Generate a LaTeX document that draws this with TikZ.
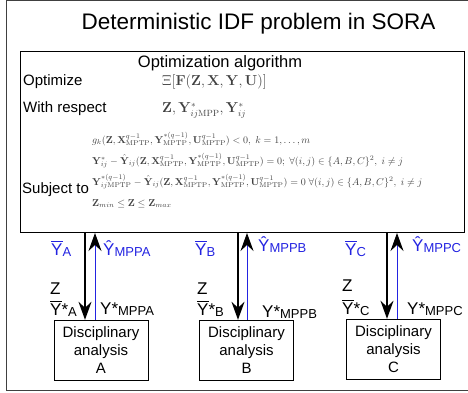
\documentclass[tikz,border=0pt]{standalone}
\usepackage[no-math]{fontspec}
\setmainfont{Liberation Sans}
\usepackage{amsmath,amssymb}
\usetikzlibrary{arrows.meta}
\definecolor{varblue}{RGB}{35,35,225}
\tikzset{
  lbl/.style={anchor=base west, inner sep=0pt, font=\fontsize{17}{17}\selectfont},
  bluelbl/.style={lbl, text=varblue},
  txt/.style={anchor=base west, inner sep=0pt, font=\fontsize{15}{15}\selectfont},
  mth/.style={anchor=base west, inner sep=0pt, text=black!75, font=\fontsize{13.5}{15}\selectfont},
  cst/.style={mth, font=\fontsize{10}{12}\selectfont},
  dabox/.style={draw, minimum width=94pt, minimum height=60pt, align=center, inner sep=0pt, font=\fontsize{15}{18}\selectfont},
  dn/.style={-{Stealth[length=18pt,width=13pt,inset=6pt]}, line width=1.2pt},
  upv/.style={-{Stealth[length=18pt,width=13pt,inset=6pt,color=black]}, varblue, line width=0.9pt},
}
\newcommand{\sbs}[1]{\raisebox{-1.5pt}{\fontsize{13}{13}\selectfont #1}}
\newcommand{\ybar}{$\overline{\mbox{Y}}$}
\begin{document}
\begin{tikzpicture}[x=1pt, y=-1pt]
\useasboundingbox (0,0) rectangle (468,393);
% frame and title
\draw[black!75, line width=1pt] (475,0.5) -- (6,0.5) -- (6,390) -- (475,390);
\node[anchor=base, inner sep=0pt, font=\fontsize{22.5}{24}\selectfont] (title) at (258.5,30) {Deterministic IDF problem in SORA};
% optimization block
\node[draw, line width=1pt, minimum width=444pt, minimum height=181pt, anchor=north west, inner sep=0pt] (opt) at (20,51) {};
\node[anchor=base, inner sep=0pt, font=\fontsize{16.5}{18}\selectfont] (algo) at (220,68) {Optimization algorithm};
\node[txt] (optz) at (23,86) {Optimize};
\node[txt] (wrt) at (23,113) {With respect};
\node[txt] (subj) at (22,193) {Subject to};
\node[mth] (obj) at (162,86) {$\Xi[\mathbf{F}(\mathbf{Z},\mathbf{X},\mathbf{Y},\mathbf{U})]$};
\node[mth] (vars) at (162,113) {$\mathbf{Z},\mathbf{Y}^{*}_{ij\mathrm{MPP}},\mathbf{Y}^{*}_{ij}$};
\node[cst] (g1) at (92,143) {$g_k(\mathbf{Z},\mathbf{X}^{q-1}_{\mathrm{MPTP}},\mathbf{Y}^{*(q-1)}_{\mathrm{MPTP}},\mathbf{U}^{q-1}_{\mathrm{MPTP}})<0,\; k=1,\dots,m$};
\node[cst] (g2) at (92,164) {$\mathbf{Y}^{*}_{ij}-\hat{\mathbf{Y}}_{ij}(\mathbf{Z},\mathbf{X}^{q-1}_{\mathrm{MPTP}},\mathbf{Y}^{*(q-1)}_{\mathrm{MPTP}},\mathbf{U}^{q-1}_{\mathrm{MPTP}})=0;\;\forall(i,j)\in\{A,B,C\}^2,\;i\neq j$};
\node[cst] (g3) at (92,185) {$\mathbf{Y}^{*(q-1)}_{ij\mathrm{MPTP}}-\hat{\mathbf{Y}}_{ij}(\mathbf{Z},\mathbf{X}^{q-1}_{\mathrm{MPTP}},\mathbf{Y}^{*(q-1)}_{\mathrm{MPTP}},\mathbf{U}^{q-1}_{\mathrm{MPTP}})=0\;\forall(i,j)\in\{A,B,C\}^2,\;i\neq j$};
\node[cst] (g4) at (92,206) {$\mathbf{Z}_{min}\leq\mathbf{Z}\leq\mathbf{Z}_{max}$};
% disciplinary analyses
\node[dabox] (da) at (101,350) {Disciplinary\\analysis\\A};
\node[dabox] (db) at (246.5,350) {Disciplinary\\analysis\\B};
\node[dabox] (dc) at (393.5,349) {Disciplinary\\analysis\\C};
% couplings
\coordinate (xa1) at (85,0);
\coordinate (xa2) at (95,0);
\coordinate (xb1) at (238,0);
\coordinate (xb2) at (247,0);
\coordinate (xc1) at (387,0);
\coordinate (xc2) at (397,0);
\draw[dn] (opt.south -| xa1) -- (da.north -| xa1);
\draw[upv] (da.north -| xa2) -- (opt.south -| xa2);
\draw[dn] (opt.south -| xb1) -- (db.north -| xb1);
\draw[upv] (db.north -| xb2) -- (opt.south -| xb2);
\draw[dn] (opt.south -| xc1) -- (dc.north -| xc1);
\draw[upv] (dc.north -| xc2) -- (opt.south -| xc2);
% labels A
\node[bluelbl] (ya) at (51,255) {\ybar\sbs{A}};
\node[bluelbl] (yha) at (103,255) {\^Y\sbs{MPPA}};
\node[lbl] (za) at (50,294) {Z};
\node[lbl] (ysa) at (50,315) {\ybar*\sbs{A}};
\node[lbl] (ympa) at (100,314) {Y*\sbs{MPPA}};
% labels B
\node[bluelbl] (yb) at (195,255) {\ybar\sbs{B}};
\node[bluelbl] (yhb) at (258,251) {\^Y\sbs{MPPB}};
\node[lbl] (zb) at (197,294) {Z};
\node[lbl] (ysb) at (197,315) {\ybar*\sbs{B}};
\node[lbl] (ympb) at (262,317) {Y*\sbs{MPPB}};
% labels C
\node[bluelbl] (yc) at (345,255) {\ybar\sbs{C}};
\node[bluelbl] (yhc) at (412,251) {\^Y\sbs{MPPC}};
\node[lbl] (zc) at (342,291) {Z};
\node[lbl] (ysc) at (342,314) {\ybar*\sbs{C}};
\node[lbl] (ympc) at (407,314) {Y*\sbs{MPPC}};
\end{tikzpicture}
\end{document}
